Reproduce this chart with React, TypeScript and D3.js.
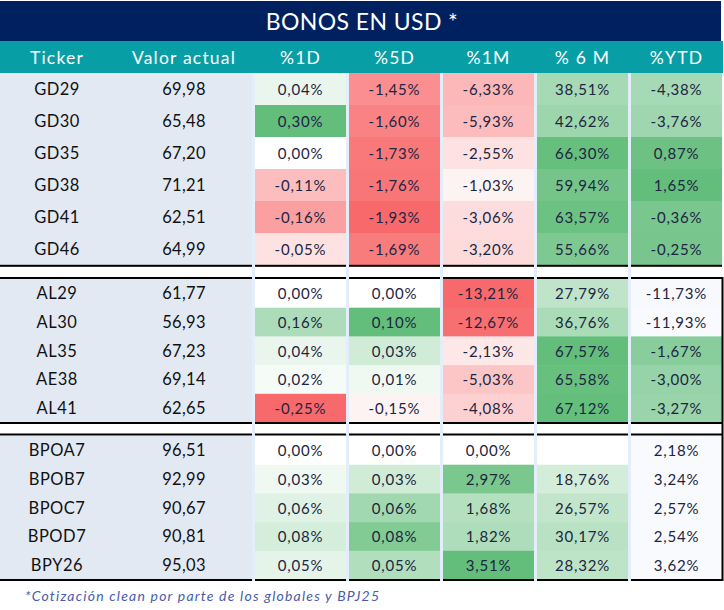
import React from "react";
import * as d3 from "d3";

// ---- Data ----
const title = "BONOS EN USD *";
const headers = ["Ticker", "Valor actual", "%1D", "%5D", "%1M", "% 6 M", "%YTD"];
const tickers = ["GD29", "GD30", "GD35", "GD38", "GD41", "GD46", "AL29", "AL30", "AL35", "AE38", "AL41", "BPOA7", "BPOB7", "BPOC7", "BPOD7", "BPY26"];
const valores = [69.98, 65.48, 67.2, 71.21, 62.51, 64.99, 61.77, 56.93, 67.23, 69.14, 62.65, 96.51, 92.99, 90.67, 90.81, 95.03];
const d1 = [0.04, 0.3, 0.0, -0.11, -0.16, -0.05, 0.0, 0.16, 0.04, 0.02, -0.25, 0.0, 0.03, 0.06, 0.08, 0.05];
const d5 = [-1.45, -1.6, -1.73, -1.76, -1.93, -1.69, 0.0, 0.1, 0.03, 0.01, -0.15, 0.0, 0.03, 0.06, 0.08, 0.05];
const m1 = [-6.33, -5.93, -2.55, -1.03, -3.06, -3.2, -13.21, -12.67, -2.13, -5.03, -4.08, 0.0, 2.97, 1.68, 1.82, 3.51];
const m6: (number | null)[] = [38.51, 42.62, 66.3, 59.94, 63.57, 55.66, 27.79, 36.76, 67.57, 65.58, 67.12, null, 18.76, 26.57, 30.17, 28.32];
const ytd = [-4.38, -3.76, 0.87, 1.65, -0.36, -0.25, -11.73, -11.93, -1.67, -3.0, -3.27, 2.18, 3.24, 2.57, 2.54, 3.62];
const sectionSizes = [6, 5, 5];
const footnote = "*Cotización clean por parte de los globales y BPJ25";

// ---- Styles ----
const W = 724;
const FONT = "Lato, 'Open Sans', sans-serif";
const NAVY = "#002060";
const TEAL = "#089ea5";
const LEFT_BG = "#e2e9f3";
const SEP = "#e4eefa";
const RED = "#f8696b";
const WHITE = "#ffffff";
const GREEN = "#63be7b";
const YTD_MIN = "#f9fafe";
const TEXT = "#1c2541";

const fmt = (v: number) => v.toFixed(2).replace(".", ",");

function divergingScale(vals: (number | null)[]) {
  const nums = vals.filter((v): v is number => v != null);
  const mn = d3.min(nums) as number;
  const mx = d3.max(nums) as number;
  if (mn < 0)
    return d3.scaleLinear<string>().domain([mn, 0, mx]).range([RED, WHITE, GREEN]).interpolate(d3.interpolateRgb).clamp(true);
  return d3.scaleLinear<string>().domain([0, mx]).range([WHITE, GREEN]).interpolate(d3.interpolateRgb).clamp(true);
}

export default function App() {
  const sectionRanges: [number, number][] = [
    [73, 265],
    [279, 422.5],
    [436, 579.5],
  ];
  const lineTop = [null, 278, 434.5];
  const lineBottom = [265.8, 423, 580];

  const colX = d3.scaleBand<number>().domain([0, 1, 2, 3, 4]).range([255, 722]).paddingInner(3 / 94).paddingOuter(0);
  const cw = colX.bandwidth();

  const cols: (number | null)[][] = [d1, d5, m1, m6, ytd];
  const scales = [divergingScale(d1), divergingScale(d5), divergingScale(m1), divergingScale(m6)];
  const ytdFormatted = ytd.slice(0, sectionSizes[0] + sectionSizes[1]);
  const ytdScale = d3
    .scaleLinear<string>()
    .domain([d3.min(ytdFormatted) as number, d3.max(ytdFormatted) as number])
    .range([YTD_MIN, GREEN])
    .interpolate(d3.interpolateRgb);

  const rows: { i: number; y: number; h: number; s: number }[] = [];
  let idx = 0;
  sectionSizes.forEach((n, s) => {
    const band = d3.scaleBand<number>().domain(d3.range(n)).range(sectionRanges[s]).padding(0);
    for (let k = 0; k < n; k++) {
      rows.push({ i: idx, y: band(k) as number, h: band.bandwidth(), s });
      idx++;
    }
  });

  const cellColor = (c: number, i: number, s: number) => {
    const v = cols[c][i];
    if (v == null) return WHITE;
    if (c === 4) return s === 2 ? YTD_MIN : ytdScale(v as number);
    return scales[c](v as number);
  };

  const headerCenters = [57, 184, ...[0, 1, 2, 3, 4].map((c) => (colX(c) as number) + cw / 2)];
  const blocks: [number, number][] = [[0, 252], ...[0, 1, 2, 3, 4].map((c) => [colX(c) as number, (colX(c) as number) + cw] as [number, number])];

  return (
    <svg width={W} height={610} style={{ position: "absolute", left: 0, top: 0, fontFamily: FONT }}>
      <rect x={0} y={0} width={W} height={610} fill="#ffffff" />
      <rect x={0} y={1} width={721} height={40} fill={NAVY} />
      <text x={362} y={21} fill="#ffffff" fontSize={23} textAnchor="middle" dominantBaseline="central" letterSpacing={0.4}>
        {title}
      </text>
      <rect x={0} y={41} width={723} height={32} fill={TEAL} />
      {headers.map((h, k) => (
        <text key={h} x={headerCenters[k]} y={57} fill="#ffffff" fontSize={17.5} textAnchor="middle" dominantBaseline="central" letterSpacing={1.2}>
          {h}
        </text>
      ))}
      {sectionRanges.map((r, s) => (
        <rect key={"lb" + s} x={0} y={r[0]} width={252} height={r[1] - r[0]} fill={LEFT_BG} />
      ))}
      {rows.map((r) =>
        [0, 1, 2, 3, 4].map((c) => (
          <rect key={`c${r.i}-${c}`} x={colX(c)} y={r.y} width={cw} height={r.h + 0.5} fill={cellColor(c, r.i, r.s)} />
        ))
      )}
      {[252, ...[1, 2, 3, 4].map((c) => (colX(c) as number) - 3)].map((x) => (
        <rect key={"sep" + x} x={x} y={73} width={3} height={508} fill={SEP} />
      ))}
      {blocks.map((b, k) => (
        <g key={"bl" + k}>
          {lineBottom.map((y) => (
            <rect key={"b" + y} x={b[0]} y={y - 1} width={b[1] - b[0]} height={2} fill="#000" />
          ))}
          {lineTop.filter((y) => y != null).map((y) => (
            <rect key={"t" + y} x={b[0]} y={(y as number) - 1} width={b[1] - b[0]} height={2} fill="#000" />
          ))}
        </g>
      ))}
      <rect x={721.5} y={277} width={2} height={304} fill="#000" />
      {rows.map((r) => {
        const cy = r.y + r.h / 2;
        return (
          <g key={"t" + r.i}>
            <text x={57} y={cy} fontSize={16.5} fill="#111" textAnchor="middle" dominantBaseline="central" letterSpacing={0.5}>
              {tickers[r.i]}
            </text>
            <text x={184} y={cy} fontSize={16.5} fill="#111" textAnchor="middle" dominantBaseline="central" letterSpacing={0.3}>
              {fmt(valores[r.i])}
            </text>
            {[0, 1, 2, 3, 4].map((c) => {
              const v = cols[c][r.i];
              if (v == null) return null;
              return (
                <text key={c} x={(colX(c) as number) + cw / 2} y={cy} fontSize={15} fill={TEXT} textAnchor="middle" dominantBaseline="central" letterSpacing={0.8}>
                  {fmt(v as number) + "%"}
                </text>
              );
            })}
          </g>
        );
      })}
      <text x={25} y={595} fontSize={14} fontStyle="italic" fill="#4a5ca8" dominantBaseline="central" letterSpacing={1.2}>
        {footnote}
      </text>
    </svg>
  );
}
